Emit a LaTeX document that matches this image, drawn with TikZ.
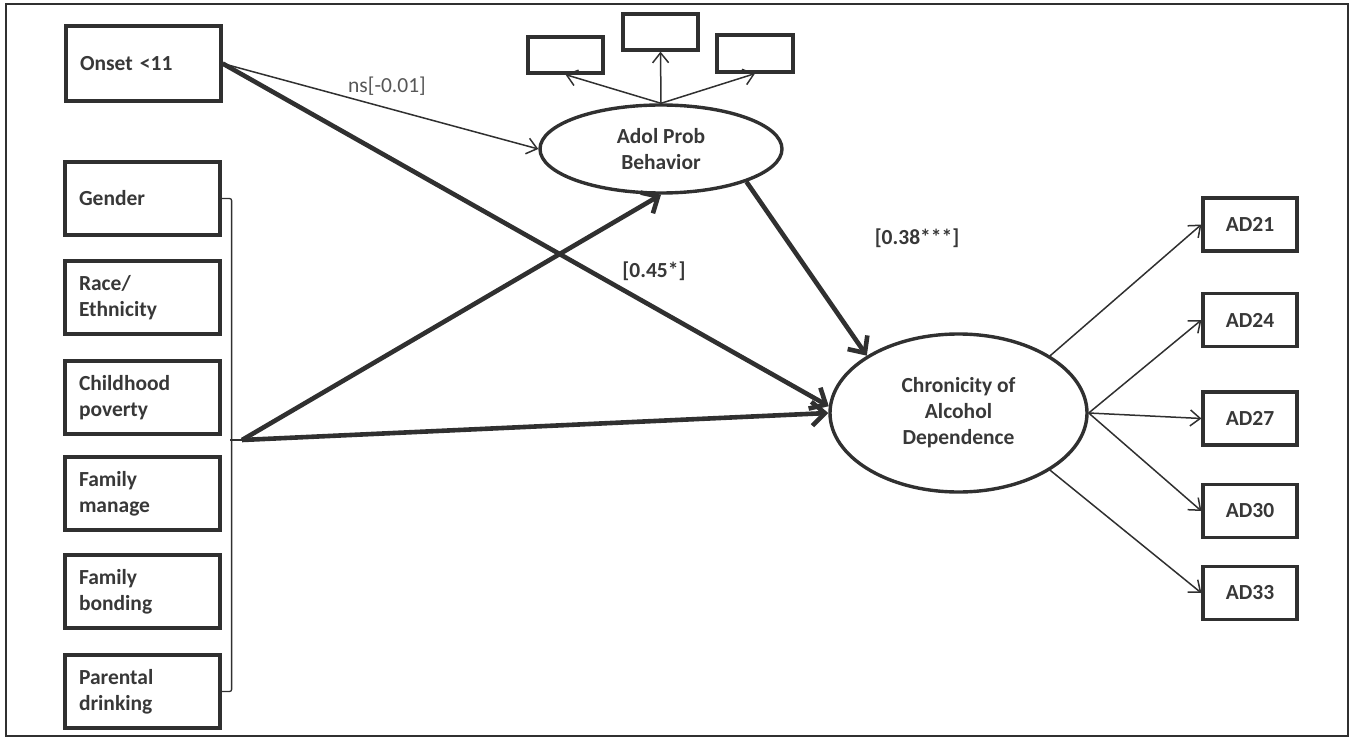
\documentclass[tikz,border=0pt]{standalone}
\usepackage{fontspec}
\setmainfont{Carlito}
\usetikzlibrary{arrows.meta,shapes.geometric}
\definecolor{ink}{HTML}{303030}
\definecolor{txt}{HTML}{383838}
\begin{document}
\begin{tikzpicture}[x=1pt,y=-1pt,
  every node/.style={text=txt,font=\fontsize{21.5}{26}\selectfont\bfseries},
  leftbox/.style={draw=ink,line width=3.2pt,minimum width=155pt,minimum height=73pt,
    text width=127pt,align=left,inner xsep=14pt,inner ysep=0pt},
  adbox/.style={draw=ink,line width=3.2pt,minimum width=94pt,minimum height=53pt,inner sep=0pt},
  emptybox/.style={draw=ink,line width=3.2pt,minimum width=75pt,minimum height=36pt,inner sep=0pt},
  latent/.style={draw=ink,line width=3.4pt,ellipse,inner sep=0pt,align=center},
  thinarrow/.style={draw=ink,line width=1.5pt,-{Straight Barb[length=10pt,width=16pt]}},
  thickarrow/.style={draw=ink,line width=4.6pt,-{Straight Barb[length=13pt,width=24pt]}},
  coef/.style={text=txt}
]
\useasboundingbox (0,0) rectangle (1351,738);
\draw[ink,line width=2.2pt] (6,4) rectangle (1348,736);

% left boxes
\node[leftbox,minimum height=75pt] (onset) at (143.5,63.5) {Onset <11};
\node[leftbox] (gender) at (142.5,198.5) {Gender};
\node[leftbox] (race) at (142.5,297.5) {Race/\\Ethnicity};
\node[leftbox] (child) at (142.5,397.5) {Childhood\\poverty};
\node[leftbox] (fman) at (142.5,493.5) {Family\\manage};
\node[leftbox] (fbond) at (142.5,591.5) {Family\\bonding};
\node[leftbox] (pdrink) at (142.5,691.5) {Parental\\drinking};

% bracket
\draw[ink,line width=1.3pt,rounded corners=2pt] (gender.east) -- ++(10,0) |- (pdrink.east);
\coordinate (hub) at (242,440);
\draw[ink,line width=1.3pt] (230,440) -- (hub);

% latent variables
\node[latent,minimum width=242pt,minimum height=88pt] (adol) at (661,149) {Adol Prob\\Behavior};
\node[latent,minimum width=257pt,minimum height=158pt] (chron) at (958.5,413) {Chronicity of\\Alcohol\\Dependence};

% small empty boxes
\node[emptybox] (sl) at (565.5,55) {};
\node[emptybox] (sm) at (660.5,32) {};
\node[emptybox,minimum width=76pt,minimum height=37pt] (sr) at (755,53.5) {};

% AD boxes
\node[adbox] (ad21) at (1250,224.5) {AD21};
\node[adbox] (ad24) at (1250,320) {AD24};
\node[adbox] (ad27) at (1250,418.5) {AD27};
\node[adbox] (ad30) at (1250,511) {AD30};
\node[adbox] (ad33) at (1250,593) {AD33};

% connectors
\draw[thinarrow] (onset.east) -- (adol.west);
\draw[thickarrow] (onset.east) -- (chron.177);
\draw[thickarrow] (hub) -- (adol.south);
\draw[thickarrow] (hub) -- (chron.west);
\draw[thickarrow] (adol.-21) -- (chron.148);

\draw[thinarrow] (adol.north) -- (sl.south);
\draw[thinarrow] (adol.north) -- (sm.south);
\draw[thinarrow] (adol.north) -- (sr.south);

\draw[thinarrow] (chron.32) -- (ad21.west);
\draw[thinarrow] (chron.east) -- (ad24.west);
\draw[thinarrow] (chron.east) -- (ad27.west);
\draw[thinarrow] (chron.east) -- (ad30.west);
\draw[thinarrow] (chron.-32) -- (ad33.west);

% coefficients
\node[coef,font=\fontsize{21.5}{26}\selectfont\mdseries,text=txt!85] (ns) at (387,86) {ns[-0.01]};
\node[coef] (c45) at (654,271) {[0.45*]};
\node[coef] (c38) at (917,238) {[0.38***]};
\end{tikzpicture}
\end{document}
